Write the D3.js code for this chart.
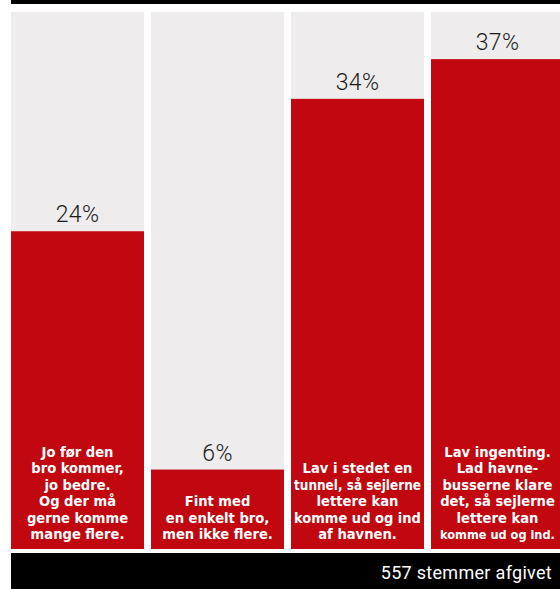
<!DOCTYPE html>
<html>
<head>
<meta charset="utf-8">
<title>Afstemning</title>
<style>
  html, body { margin: 0; padding: 0; background: #fff; overflow: hidden; }
  svg { display: block; }
  .pct { font-family: Roboto, "DejaVu Sans", sans-serif; font-weight: 300; font-size: 23px; letter-spacing: 0.4px; fill: #1a1a1a; }
  .answer { font-family: "DejaVu Sans Condensed", "DejaVu Sans", sans-serif; font-stretch: condensed; font-weight: bold; fill: #fff; }
  .foot { font-family: Roboto, "DejaVu Sans", sans-serif; font-size: 18px; letter-spacing: 0.3px; fill: #fff; }
</style>
</head>
<body>
<div id="chart"></div>
<script src="https://cdn.jsdelivr.net/npm/d3@7"></script>
<script>
// svarmuligheder og resultater
var answers = ["a", "b", "c", "d"];
var shares = [24, 6, 34, 37];
var answerLines = [
  ["Jo før den", "bro kommer,", "jo bedre.", "Og der må", "gerne komme", "mange flere."],
  ["Fint med", "en enkelt bro,", "men ikke flere."],
  ["Lav i stedet en", "tunnel, så sejlerne", "lettere kan", "komme ud og ind", "af havnen."],
  ["Lav ingenting.", "Lad havne-", "busserne klare", "det, så sejlerne", "lettere kan", "komme ud og ind."]
];
var votesText = "557 stemmer afgivet";

var width = 560, height = 589;
var red = "#c1070f", grey = "#eeeced";
var answerSize = 14.6;

var svg = d3.select("#chart").append("svg")
    .attr("width", width)
    .attr("height", height);

// columns are 133px wide with 7px gaps, the last one runs off the right edge
var x = d3.scaleBand()
    .domain(answers)
    .range([11, 564])
    .paddingInner(0.05)
    .paddingOuter(0);

var y = d3.scaleLinear()
    .domain([0, 40.56])
    .range([549, 12]);

var data = answers.map(function(a, i) {
  return { key: a, value: shares[i], lines: answerLines[i] };
});

// black strip at the top
svg.append("rect")
    .attr("x", 11).attr("y", 0)
    .attr("width", width - 11).attr("height", 4)
    .attr("fill", "#000");

var col = svg.selectAll("g.col")
    .data(data)
  .enter().append("g")
    .attr("class", "col");

col.append("rect")
    .attr("x", function(d) { return x(d.key); })
    .attr("y", y(y.domain()[1]))
    .attr("width", x.bandwidth())
    .attr("height", y(0) - y(y.domain()[1]))
    .attr("fill", grey);

col.append("rect")
    .attr("x", function(d) { return x(d.key); })
    .attr("y", function(d) { return y(d.value); })
    .attr("width", x.bandwidth())
    .attr("height", function(d) { return y(0) - y(d.value); })
    .attr("fill", red);

col.append("text")
    .attr("class", "pct")
    .attr("text-anchor", "middle")
    .attr("x", function(d) { return x(d.key) + x.bandwidth() / 2; })
    .attr("y", function(d) { return y(d.value) - 9; })
    .text(function(d) { return d.value + "%"; });

// answer text sits at the bottom of each red bar
var lineH = 16.4;
col.each(function(d) {
  var g = d3.select(this);
  var n = d.lines.length;
  var cx = x(d.key) + x.bandwidth() / 2;
  // keep text inside the column and inside the picture
  var maxW = Math.min(x.bandwidth() - 6, 2 * (width - 5 - cx));
  g.selectAll("text.answer")
      .data(d.lines)
    .enter().append("text")
      .attr("class", "answer")
      .attr("text-anchor", "middle")
      .attr("x", cx)
      .attr("y", function(l, i) { return y(0) - 10 - (n - 1 - i) * lineH; })
      .style("font-size", answerSize + "px")
      .text(function(l) { return l; })
      .each(function() {
        var w = this.getComputedTextLength();
        if (w > maxW) {
          d3.select(this).style("font-size", (answerSize * maxW / w) + "px");
        }
      });
});

// footer
svg.append("rect")
    .attr("x", 11).attr("y", 553)
    .attr("width", width - 11).attr("height", height - 553)
    .attr("fill", "#000");

svg.append("text")
    .attr("class", "foot")
    .attr("text-anchor", "end")
    .attr("x", 552)
    .attr("y", 579)
    .text(votesText);
</script>
</body>
</html>
